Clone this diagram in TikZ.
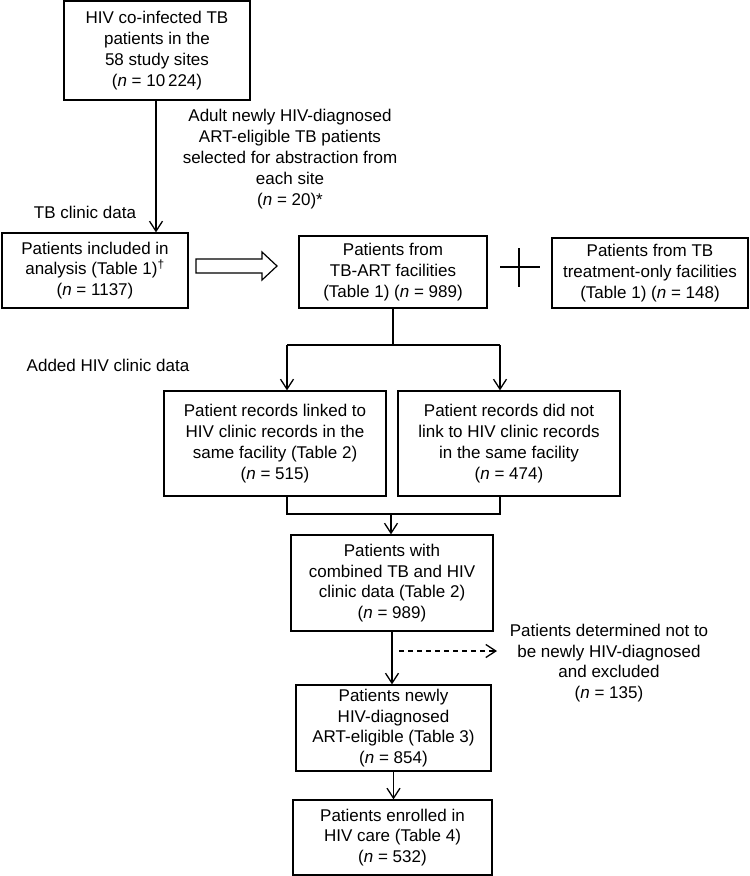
\documentclass[tikz,border=0pt]{standalone}
\usepackage{fontspec}
\setmainfont{Liberation Sans}
\usetikzlibrary{arrows.meta}
\begin{document}
\begin{tikzpicture}[x=1pt,y=-1pt,
  box/.style={draw,line width=1.3pt,align=center,inner sep=0pt,font=\fontsize{17}{20.8}\selectfont},
  lbl/.style={align=center,inner sep=0pt,font=\fontsize{17}{20.8}\selectfont},
  conn/.style={line width=1.3pt},
  arr/.style={conn,-{Straight Barb[length=10pt,width=13pt,line width=1.3pt]}},
  dsh/.style={dash pattern=on 5pt off 4pt}
]
\useasboundingbox (0,0) rectangle (750,876);

% boxes
\node[box,minimum width=186pt,minimum height=99pt] (top) at (157,50.5)
  {HIV co-infected TB\\patients in the\\58 study sites\\(\textit{n} = 10\,224)};
\node[box,minimum width=186pt,minimum height=75pt] (incl) at (95,270.5)
  {Patients included in\\analysis (Table 1)\textsuperscript{\dag}\\(\textit{n} = 1137)};
\node[box,minimum width=188pt,minimum height=72pt] (tbart) at (393,272)
  {Patients from\\TB-ART facilities\\(Table 1) (\textit{n} = 989)};
\node[box,minimum width=196pt,minimum height=70pt] (tbonly) at (650,273)
  {Patients from TB\\treatment-only facilities\\(Table 1) (\textit{n} = 148)};
\node[box,minimum width=222pt,minimum height=105pt] (linked) at (275,443.5)
  {Patient records linked to\\HIV clinic records in the\\same facility (Table 2)\\(\textit{n} = 515)};
\node[box,minimum width=222pt,minimum height=105pt] (notlinked) at (509,443.5)
  {Patient records did not\\link to HIV clinic records\\in the same facility\\(\textit{n} = 474)};
\node[box,minimum width=202pt,minimum height=96pt] (comb) at (392,583)
  {Patients with\\combined TB and HIV\\clinic data (Table 2)\\(\textit{n} = 989)};
\node[box,minimum width=195pt,minimum height=86pt] (newly) at (393.5,728)
  {Patients newly\\HIV-diagnosed\\ART-eligible (Table 3)\\(\textit{n} = 854)};
\node[box,minimum width=199pt,minimum height=75pt] (enrol) at (392.5,837.5)
  {Patients enrolled in\\HIV care (Table 4)\\(\textit{n} = 532)};

% labels
\node[lbl] (sel) at (290,159)
  {Adult newly HIV-diagnosed\\ART-eligible TB patients\\selected for abstraction from\\each site\\(\textit{n} = 20)*};
\node[lbl] (tbdata) at (85,212) {TB clinic data};
\node[lbl] (hivdata) at (108,365) {Added HIV clinic data};
\node[lbl] (excl) at (609,663)
  {Patients determined not to\\be newly HIV-diagnosed\\and excluded\\(\textit{n} = 135)};

% connectors
\draw[arr] (top.south -| 156,0) -- (156,0 |- incl.north);

% hollow arrow
\draw[line width=1.2pt] (196,259) -- (262,259) -- (262,252) -- (277,266)
  -- (262,280) -- (262,273) -- (196,273) -- cycle;

% plus sign
\draw[line width=1.3pt] (500,267) -- (540,267);
\draw[line width=1.3pt] (519,248) -- (519,287);

% split
\coordinate (split) at (393,345);
\coordinate (sL) at (287,345);
\coordinate (sR) at (500,345);
\draw[conn] (tbart.south) -- (split);
\draw[conn] (sL) -- (sR);
\draw[arr] (sL) -- (sL |- linked.north);
\draw[arr] (sR) -- (sR |- notlinked.north);

% merge
\coordinate (mL) at (287,514);
\coordinate (mR) at (500,514);
\coordinate (merge) at (391,514);
\draw[conn] (mL |- linked.south) -- (mL) -- (mR) -- (mR |- notlinked.south);
\draw[arr] (merge) -- (merge |- comb.north);

\draw[arr] (comb.south) -- (comb.south |- newly.north);
\coordinate (dstart) at (399,651);
\draw[arr,dsh] (dstart) -- (497,651);
\draw[arr] (newly.south) -- (newly.south |- enrol.north);
\end{tikzpicture}
\end{document}
